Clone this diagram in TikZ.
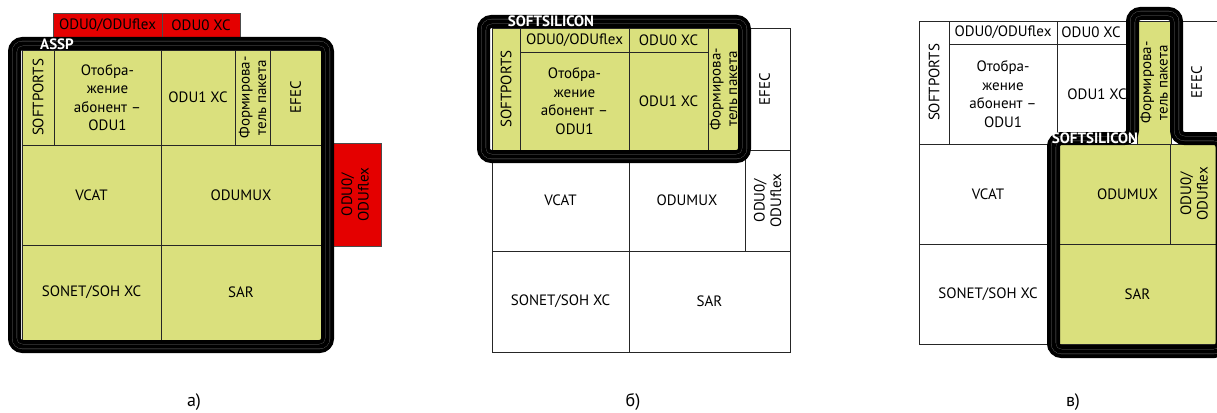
\documentclass[tikz,border=0pt]{standalone}
\usepackage{fontspec}
\setmainfont{PT Sans}
\usepackage{xcolor}
\definecolor{chipyellow}{RGB}{218,224,125}
\definecolor{odured}{RGB}{228,0,0}

\begin{document}
\begin{tikzpicture}[
    x=1pt, y=-1pt,
    cell/.style={draw=black!85, line width=0.9pt, inner sep=0pt, outer sep=0pt,
                 align=center, font=\fontsize{15}{17.5}\selectfont},
    chip/.style={cell, fill=chipyellow},
    blank/.style={cell, fill=white},
    ext/.style={cell, fill=odured, draw=black!70},
    twoline/.style={font=\fontsize{15}{16.5}\selectfont},
    maptext/.style={font=\fontsize{15}{18.5}\selectfont},
    frame/.style={draw=black, line width=13pt, rounded corners=8pt,
                  postaction={draw=black!55, line width=5pt},
                  postaction={draw=black, line width=4.4pt}},
    tag/.style={text=white, inner sep=0pt, font=\bfseries\fontsize{15}{15}\selectfont},
    caption/.style={inner sep=0pt, font=\fontsize{18}{18}\selectfont},
]
\useasboundingbox (0,0) rectangle (1217,412);
\clip (0,0) rectangle (1217,412);

% a) ASSP
\node[ext, minimum width=109pt, minimum height=24pt] (aTopFlex) at (107.5,25) {ODU0/ODUflex};
\node[ext, minimum width=78pt, minimum height=24pt] (aTopXc) at (201,25) {ODU0 XC};
\node[ext, twoline, rotate=90, minimum width=103pt, minimum height=52pt] (aSideFlex) at (355,194.5) {ODU0/\\ODUflex};

\node[chip, rotate=90, minimum width=95pt, minimum height=32pt] (aSoft) at (38,97.5) {SOFTPORTS};
\node[chip, maptext, minimum width=107pt, minimum height=95pt] (aMap) at (107.5,97.5) {Отобра-\\жение\\абонент –\\ODU1};
\node[chip, minimum width=74pt, minimum height=95pt] (aXc) at (198,97.5) {ODU1 XC};
\node[chip, twoline, rotate=90, minimum width=95pt, minimum height=35pt] (aPkt) at (252.5,97.5) {Формирова-\\тель пакета};
\node[chip, rotate=90, minimum width=95pt, minimum height=51pt] (aEfec) at (295.5,97.5) {EFEC};
\node[chip, minimum width=139pt, minimum height=100pt] (aVcat) at (91.5,195) {VCAT};
\node[chip, minimum width=160pt, minimum height=100pt] (aMux) at (241,195) {ODUMUX};
\node[chip, minimum width=139pt, minimum height=95pt] (aSonet) at (91.5,292.5) {SONET/SOH XC};
\node[chip, minimum width=160pt, minimum height=95pt] (aSar) at (241,292.5) {SAR};

\draw[frame] (14.5,43.5) rectangle (327.5,346.5);
\node[tag] (aTag) at (57,44) {ASSP};
\node[caption] (aCap) at (194,402) {а)};

% b) SOFTSILICON over the upper row
\node[chip, rotate=90, minimum width=122pt, minimum height=28pt] (bSoft) at (506,89) {SOFTPORTS};
\node[chip, minimum width=109pt, minimum height=24pt] (bFlex) at (574.5,40) {ODU0/ODUflex};
\node[chip, minimum width=79pt, minimum height=24pt] (bXc0) at (668.5,40) {ODU0 XC};
\node[chip, maptext, minimum width=109pt, minimum height=98pt] (bMap) at (574.5,101) {Отобра-\\жение\\абонент –\\ODU1};
\node[chip, minimum width=79pt, minimum height=98pt] (bXc1) at (668.5,101) {ODU1 XC};
\node[chip, twoline, rotate=90, minimum width=122pt, minimum height=31pt] (bPkt) at (723.5,89) {Формирова-\\тель пакета};
\node[blank, rotate=90, minimum width=122pt, minimum height=51pt] (bEfec) at (764.5,89) {EFEC};
\node[blank, minimum width=137pt, minimum height=101pt] (bVcat) at (560.5,200.5) {VCAT};
\node[blank, minimum width=116pt, minimum height=101pt] (bMux) at (687,200.5) {ODUMUX};
\node[blank, twoline, rotate=90, minimum width=101pt, minimum height=45pt] (bFlex2) at (767.5,200.5) {ODU0/\\ODUflex};
\node[blank, minimum width=137pt, minimum height=101pt] (bSonet) at (560.5,301.5) {SONET/SOH XC};
\node[blank, minimum width=161pt, minimum height=101pt] (bSar) at (709.5,301.5) {SAR};

\draw[frame] (483.5,21.5) rectangle (744.5,156.5);
\node[tag] (bTag) at (551,21) {SOFTSILICON};
\node[caption] (bCap) at (633,402) {б)};

% c) SOFTSILICON over packet column and lower right
\node[blank, rotate=90, minimum width=123pt, minimum height=30pt] (cSoft) at (934,82.5) {SOFTPORTS};
\node[blank, minimum width=108pt, minimum height=23pt] (cFlex) at (1003,32.5) {ODU0/ODUflex};
\node[blank, minimum width=80pt, minimum height=23pt] (cXc0) at (1097,32.5) {ODU0 XC\hspace*{12pt}};
\node[blank, maptext, minimum width=108pt, minimum height=100pt] (cMap) at (1003,94) {Отобра-\\жение\\абонент –\\ODU1};
\node[blank, minimum width=80pt, minimum height=100pt] (cXc1) at (1097,94) {ODU1 XC};
\node[chip, twoline, rotate=90, minimum width=123pt, minimum height=34pt] (cPkt) at (1154,82.5) {Формирова-\\тель пакета};
\node[blank, rotate=90, minimum width=123pt, minimum height=51pt] (cEfec) at (1196.5,82.5) {EFEC};
\node[blank, minimum width=138pt, minimum height=100pt] (cVcat) at (988,194) {VCAT};
\node[chip, minimum width=113pt, minimum height=100pt] (cMux) at (1113.5,194) {\hspace*{28pt}ODUMUX};
\node[chip, twoline, rotate=90, minimum width=100pt, minimum height=48pt] (cFlex2) at (1194,194) {ODU0/\\ODUflex};
\node[blank, minimum width=138pt, minimum height=100pt] (cSonet) at (988,294) {SONET/SOH XC};
\node[chip, minimum width=161pt, minimum height=100pt] (cSar) at (1137.5,294) {SAR};

\draw[frame] (1090,138.5) -- (1132.5,138.5) -- (1132.5,13.5) -- (1176.5,13.5)
    -- (1176.5,138.5) -- (1222,138.5) -- (1222,351.5) -- (1053.5,351.5)
    -- (1053.5,138.5) -- cycle;
\node[tag] (cTag) at (1095,138.5) {SOFTSILICON};
\node[caption] (cCap) at (1073,402) {в)};

\end{tikzpicture}
\end{document}
